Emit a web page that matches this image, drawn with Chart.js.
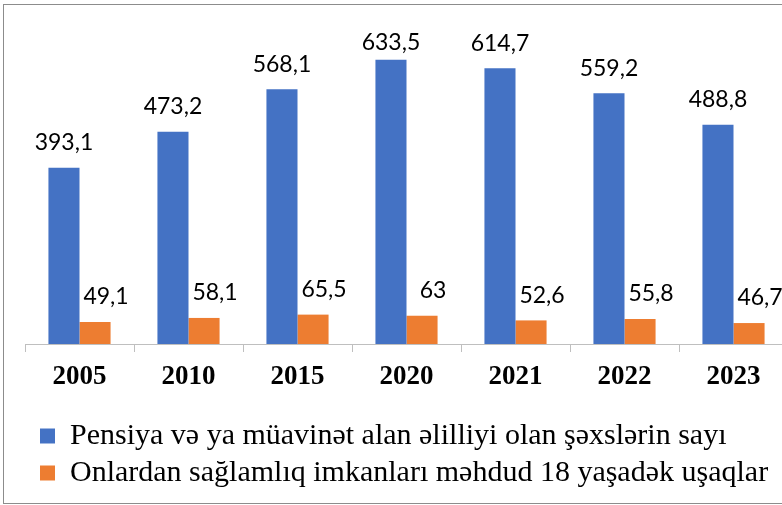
<!DOCTYPE html>
<html>
<head>
<meta charset="utf-8">
<script src="https://cdn.jsdelivr.net/npm/chart.js@4.4.0/dist/chart.umd.min.js"></script>
<style>
  html, body { margin: 0; padding: 0; background: #fff; overflow: hidden; }
  #wrap { position: relative; width: 782px; height: 505px; overflow: hidden; }
  #frame { position: absolute; left: 3px; top: 4px; width: 800px; height: 498px; border: 1px solid #8c8c8c; pointer-events: none; }
  canvas { position: absolute; left: 0; top: 0; }
</style>
</head>
<body>
<div id="wrap">
  <canvas id="chart"></canvas>
  <div id="frame"></div>
</div>
<script>
const years = ['2005', '2010', '2015', '2020', '2021', '2022', '2023'];
const pensionRecipients = [393.1, 473.2, 568.1, 633.5, 614.7, 559.2, 488.8];
const childrenUnder18 = [49.1, 58.1, 65.5, 63, 52.6, 55.8, 46.7];
const seriesNames = [
  'Pensiya və ya müavinət alan əlilliyi olan şəxslərin sayı',
  'Onlardan sağlamlıq imkanları məhdud 18 yaşadək uşaqlar'
];

Chart.defaults.font.family = "'Liberation Serif', 'DejaVu Serif', serif";
Chart.defaults.color = '#000';

// value labels above the bars, comma as decimal mark
const valueLabels = {
  id: 'valueLabels',
  afterDatasetsDraw(chart) {
    const ctx = chart.ctx;
    const top = chart.chartArea.top;
    ctx.save();
    ctx.font = '23px Lato';
    ctx.fillStyle = '#000';
    ctx.textAlign = 'center';
    ctx.textBaseline = 'middle';
    chart.data.datasets.forEach((ds, i) => {
      const shift = i === 1 ? 11 : 0;
      chart.getDatasetMeta(i).data.forEach((bar, j) => {
        const y = Math.max(bar.y - 25, top + 13);
        ctx.fillText(String(ds.data[j]).replace('.', ','), bar.x + shift, y);
      });
    });
    ctx.restore();
  }
};

// legend starts a bit right of the plot edge
const legendShift = {
  id: 'legendShift',
  afterLayout(chart) {
    chart.legend.left += 8;
    chart.legend.right += 8;
  }
};

const canvas = document.getElementById('chart');
canvas.width = 800;
canvas.height = 505;

new Chart(canvas.getContext('2d'), {
  type: 'bar',
  data: {
    labels: years,
    datasets: [{
      label: seriesNames[0],
      data: pensionRecipients,
      backgroundColor: '#4472C4',
      borderWidth: 0
    }, {
      label: seriesNames[1],
      data: childrenUnder18,
      backgroundColor: '#ED7D31',
      borderWidth: 0
    }]
  },
  options: {
    responsive: false,
    animation: false,
    categoryPercentage: 0.57,
    barPercentage: 1,
    layout: {
      padding: { left: 25, top: 30, right: 12, bottom: 7 }
    },
    scales: {
      x: {
        grid: {
          display: true,
          drawOnChartArea: false,
          drawTicks: true,
          tickLength: 8,
          color: '#bfbfbf'
        },
        border: { color: '#bfbfbf', width: 1 },
        ticks: {
          color: '#000',
          padding: 9,
          font: { size: 27, weight: 'bold' }
        },
        afterFit(scale) { scale.height = 70; }
      },
      y: {
        display: false,
        min: 0,
        max: 700
      }
    },
    plugins: {
      legend: {
        position: 'bottom',
        align: 'start',
        labels: {
          boxWidth: 15,
          boxHeight: 15,
          padding: 7,
          color: '#000',
          font: { size: 30 }
        }
      },
      tooltip: { enabled: false }
    }
  },
  plugins: [valueLabels, legendShift]
});
</script>
</body>
</html>
